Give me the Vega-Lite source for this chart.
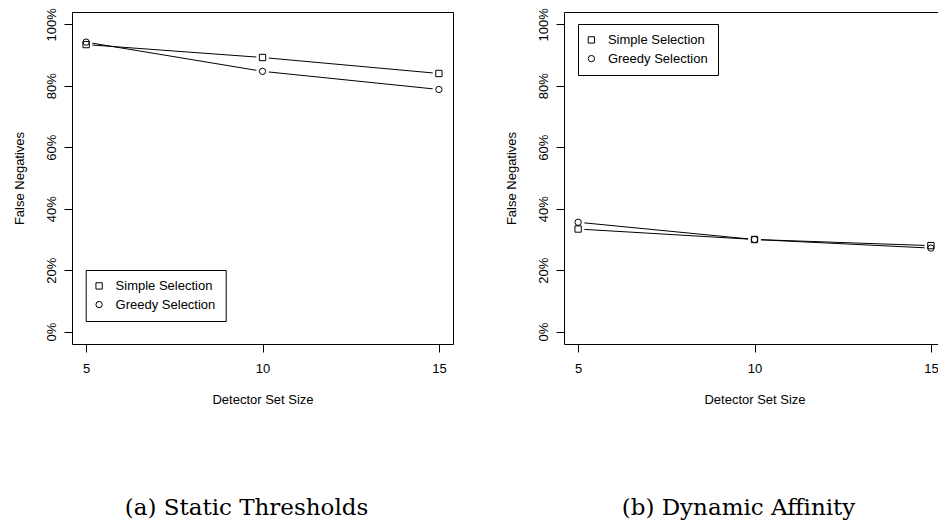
{
  "$schema": "https://vega.github.io/schema/vega-lite/v6.json",
  "background": "white",
  "padding": {"left": 12, "top": 7, "right": 0, "bottom": 0},
  "config": {
    "view": {"stroke": "black", "strokeWidth": 1},
    "font": "Liberation Sans",
    "axis": {
      "domain": false, "grid": false, "tickColor": "black", "tickSize": 8, "tickWidth": 1,
      "labelFont": "Liberation Sans", "labelFontSize": 13, "labelColor": "black",
      "titleFont": "Liberation Sans", "titleFontSize": 13, "titleFontWeight": "normal", "titleColor": "black"
    },
    "axisX": {"labelPadding": 10, "titlePadding": 18},
    "axisY": {"labelPadding": 6, "titlePadding": 19},
    "legend": {
      "strokeColor": "black", "fillColor": "white", "padding": 9.4, "title": null,
      "symbolSize": 40, "symbolStrokeWidth": 1, "symbolOffset": -2.5,
      "labelFont": "Liberation Sans", "labelFontSize": 13, "labelColor": "black",
      "rowPadding": 4.7, "labelOffset": 10, "orient": "none"
    },
    "title": {"font": "DejaVu Serif", "fontSize": 23, "fontWeight": "normal", "color": "black", "orient": "bottom", "anchor": "middle", "frame": "group"},
    "concat": {"spacing": 50}
  },
  "datasets": {
    "a": [
      {"size": 5, "fn": 93.4, "method": "Simple Selection"},
      {"size": 10, "fn": 89.2, "method": "Simple Selection"},
      {"size": 15, "fn": 84.0, "method": "Simple Selection"},
      {"size": 5, "fn": 94.2, "method": "Greedy Selection"},
      {"size": 10, "fn": 84.7, "method": "Greedy Selection"},
      {"size": 15, "fn": 78.8, "method": "Greedy Selection"}
    ],
    "b": [
      {"size": 5, "fn": 33.4, "method": "Simple Selection"},
      {"size": 10, "fn": 30.0, "method": "Simple Selection"},
      {"size": 15, "fn": 28.0, "method": "Simple Selection"},
      {"size": 5, "fn": 35.6, "method": "Greedy Selection"},
      {"size": 10, "fn": 30.0, "method": "Greedy Selection"},
      {"size": 15, "fn": 27.2, "method": "Greedy Selection"}
    ]
  },
  "hconcat": [
    {
      "width": 381, "height": 332,
      "title": {"text": "(a) Static Thresholds", "dx": -16, "offset": 91},
      "data": {"name": "a"},
      "encoding": {
        "x": {"field": "size", "type": "quantitative", "scale": {"domain": [4.6, 15.4], "nice": false, "zero": false}, "axis": {"values": [5, 10, 15], "title": "Detector Set Size"}},
        "y": {"field": "fn", "type": "quantitative", "scale": {"domain": [-4, 104], "nice": false, "zero": false}, "axis": {"values": [0, 20, 40, 60, 80, 100], "labelExpr": "datum.value + '%'", "labelAngle": -90, "title": "False Negatives"}}
      },
      "layer": [
        {"mark": {"type": "line", "color": "black", "strokeWidth": 1}, "encoding": {"detail": {"field": "method"}}},
        {"mark": {"type": "point", "shape": "circle", "filled": true, "color": "white", "size": 160, "opacity": 1}},
        {"mark": {"type": "point", "filled": false, "color": "black", "strokeWidth": 1, "size": 40, "opacity": 1},
         "encoding": {"shape": {"field": "method", "type": "nominal", "scale": {"domain": ["Simple Selection", "Greedy Selection"], "range": ["square", "circle"]},
           "legend": {"legendX": 13.7, "legendY": 258}}}}
      ]
    },
    {
      "width": 381, "height": 332,
      "title": {"text": "(b) Dynamic Affinity", "dx": -16, "offset": 91},
      "data": {"name": "b"},
      "encoding": {
        "x": {"field": "size", "type": "quantitative", "scale": {"domain": [4.6, 15.4], "nice": false, "zero": false}, "axis": {"values": [5, 10, 15], "title": "Detector Set Size"}},
        "y": {"field": "fn", "type": "quantitative", "scale": {"domain": [-4, 104], "nice": false, "zero": false}, "axis": {"values": [0, 20, 40, 60, 80, 100], "labelExpr": "datum.value + '%'", "labelAngle": -90, "title": "False Negatives"}}
      },
      "layer": [
        {"mark": {"type": "line", "color": "black", "strokeWidth": 1}, "encoding": {"detail": {"field": "method"}}},
        {"mark": {"type": "point", "shape": "circle", "filled": true, "color": "white", "size": 160, "opacity": 1}},
        {"mark": {"type": "point", "filled": false, "color": "black", "strokeWidth": 1, "size": 40, "opacity": 1},
         "encoding": {"shape": {"field": "method", "type": "nominal", "scale": {"domain": ["Simple Selection", "Greedy Selection"], "range": ["square", "circle"]},
           "legend": {"legendX": 14, "legendY": 12}}}}
      ]
    }
  ],
  "resolve": {"scale": {"shape": "independent"}, "legend": {"shape": "independent"}}
}
